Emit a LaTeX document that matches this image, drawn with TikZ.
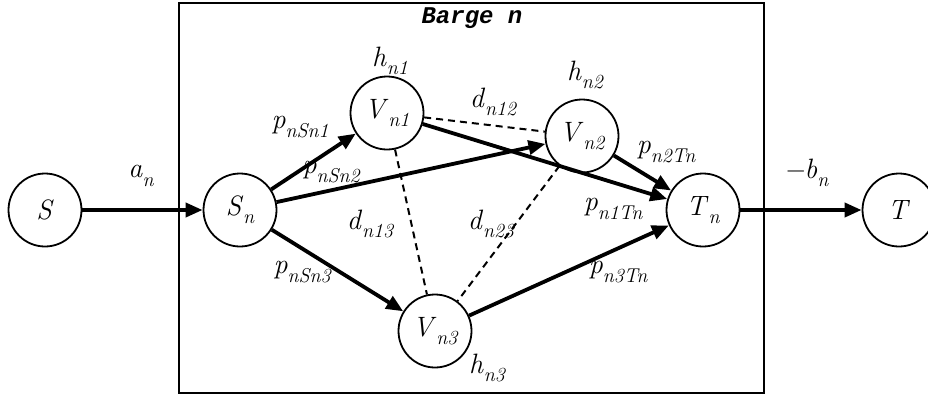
\documentclass[tikz,border=0pt]{standalone}
\usepackage{fontspec}
\usetikzlibrary{arrows.meta}
\newfontfamily\bargefont{Liberation Mono}
\newcommand\lbl[2]{\textit{#1}\raisebox{-0.3em}{\fontsize{20}{22}\selectfont\itshape #2}}
\begin{document}
\begin{tikzpicture}[x=1pt,y=-1pt,
  st/.style={circle,draw,line width=1.8pt,minimum size=73pt,inner sep=0pt,font=\fontsize{28}{32}\selectfont},
  lab/.style={font=\fontsize{28}{32}\selectfont,inner sep=0pt},
  arr/.style={line width=3.8pt,-{Triangle[length=17pt,width=14pt]}},
  dsh/.style={line width=2pt,dash pattern=on 7pt off 5pt}]
\useasboundingbox (0,0) rectangle (928,397);
\node[draw,line width=2.3pt,minimum width=585pt,minimum height=390pt,inner sep=0pt] (box) at (471.5,198) {};
\node[font=\bargefont\bfseries\itshape\fontsize{24}{28}\selectfont,inner sep=0pt] (barge) at (472,18) {Barge n};
\node[st] (S) at (45,210) {\textit{S}};
\node[st] (Sn) at (240,210) {\lbl{S}{n}};
\node[st] (V1) at (387,113) {\lbl{V}{n1}};
\node[st] (V2) at (582,136) {\lbl{V}{n2}};
\node[st] (V3) at (435,331) {\lbl{V}{n3}};
\node[st] (Tn) at (703,210) {\lbl{T}{n}};
\node[st] (T) at (899,210) {\textit{T}};
\draw[arr] (S) -- (Sn);
\draw[arr] (Sn) -- (V1);
\draw[arr] (Sn) -- (V2);
\draw[arr] (Sn) -- (V3);
\draw[arr] (V1) -- (Tn);
\draw[arr] (V2) -- (Tn);
\draw[arr] (V3) -- (Tn);
\draw[arr] (Tn) -- (T);
\draw[dsh] (V1) -- (V2);
\draw[dsh] (V1) -- (V3);
\draw[dsh] (V2) -- (V3);
\node[lab] (la) at (141,176) {\lbl{a}{n}};
\node[lab] (lb) at (806,173) {\lbl{{\char"2212}b}{n}};
\node[lab] (lh1) at (390,61) {\lbl{h}{n1}};
\node[lab] (lh2) at (585,75) {\lbl{h}{n2}};
\node[lab] (lh3) at (487,368) {\lbl{h}{n3}};
\node[lab] (ld12) at (493,102) {\lbl{d}{n12}};
\node[lab] (ld13) at (370,224) {\lbl{d}{n13}};
\node[lab] (ld23) at (491,224) {\lbl{d}{n23}};
\node[lab] (lp1) at (300,127) {\lbl{p}{nSn1}};
\node[lab] (lp2) at (331,172) {\lbl{p}{nSn2}};
\node[lab] (lp3) at (302,272) {\lbl{p}{nSn3}};
\node[lab] (lq1) at (613,209) {\lbl{p}{n1Tn}};
\node[lab] (lq2) at (666,152) {\lbl{p}{n2Tn}};
\node[lab] (lq3) at (618,272) {\lbl{p}{n3Tn}};
\end{tikzpicture}
\end{document}
